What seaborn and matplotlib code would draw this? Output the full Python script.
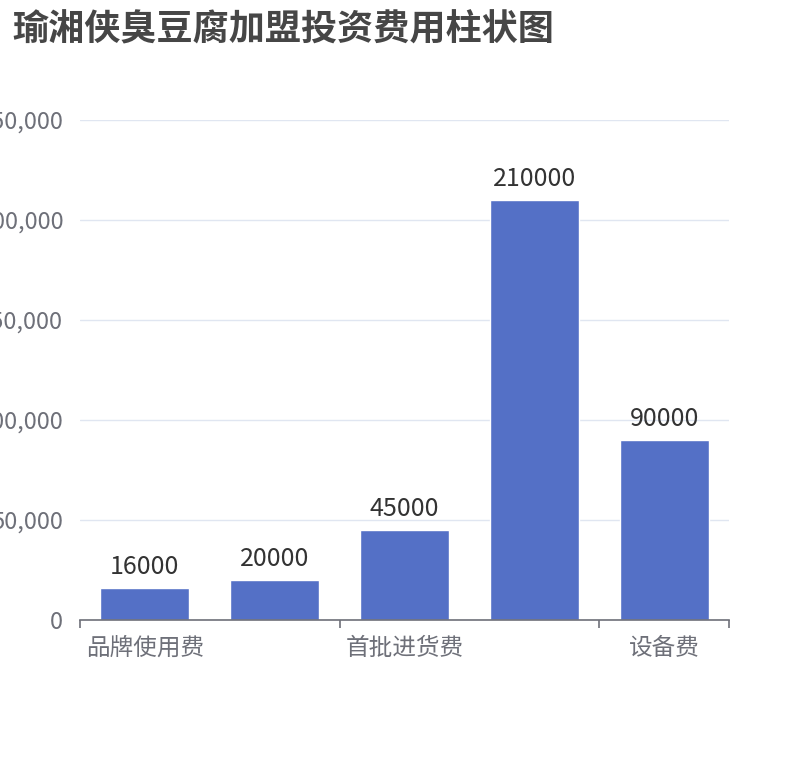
import matplotlib
matplotlib.use("Agg")
import matplotlib.pyplot as plt
import seaborn as sns
import pandas as pd
from matplotlib.ticker import FuncFormatter, FixedLocator

categories = ["品牌使用费", "加盟费", "首批进货费", "店面装修费", "设备费"]
values = [16000, 20000, 45000, 210000, 90000]
y_ticks = [0, 50000, 100000, 150000, 200000, 250000]
title = "瑜湘侠臭豆腐加盟投资费用柱状图"

sns.set_theme(style="white")
plt.rcParams['font.family'] = ['Noto Sans CJK SC', 'DejaVu Sans']

df = pd.DataFrame({"cat": categories, "val": values})

W, H = 810, 760
fig = plt.figure(figsize=(W / 100, H / 100), dpi=100)
ax = fig.add_axes([80 / W, 140 / H, 649 / W, 500 / H])

sns.barplot(data=df, x="cat", y="val", color="#5470c6", saturation=1,
            width=0.686, ax=ax, order=categories)

ax.set_xlim(-0.5, len(categories) - 0.5)
ax.set_ylim(0, 250000)
ax.set_xlabel("")
ax.set_ylabel("")

for s in ["top", "right", "left"]:
    ax.spines[s].set_visible(False)
ax.spines["bottom"].set_color("#6E7079")
ax.spines["bottom"].set_linewidth(1.2)

ax.yaxis.set_major_locator(FixedLocator(y_ticks))
ax.yaxis.set_major_formatter(FuncFormatter(lambda v, p: f"{int(v):,}"))
ax.grid(axis="y", color="#E0E6F1", linewidth=1.0)
ax.set_axisbelow(True)
ax.tick_params(axis="y", length=0, pad=12, labelsize=17, labelcolor="#6E7079")

shown = [0, 2, 4]
ax.set_xticks(shown)
ax.set_xticklabels([categories[i] for i in shown])
ax.tick_params(axis="x", which="major", length=0, pad=12, labelsize=17,
               labelcolor="#6E7079")
ax.set_xticks([-0.5, 1.5, 3.5, 4.5], minor=True)
ax.tick_params(axis="x", which="minor", length=6, width=1.2, color="#6E7079",
               bottom=True)

for i, v in enumerate(values):
    ax.annotate(f"{v}", xy=(i, v), xytext=(0, 6), textcoords="offset points",
                ha="center", va="bottom", fontsize=18, color="#333333")

fig.text(12 / W, 1 - 11 / H, title, ha="left", va="top", fontsize=26,
         fontweight="bold", color="#464646")

fig.savefig("out.png", dpi=100)
